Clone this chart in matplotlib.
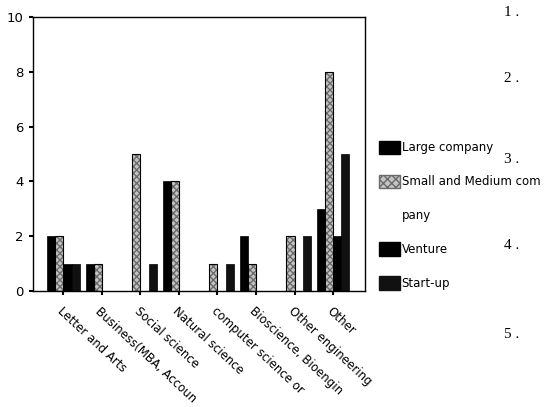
import numpy as np
import matplotlib.pyplot as plt
from matplotlib.patches import Patch

# categories (labels are cut off like in the original chart)
categories = ['Letter and Arts', 'Business(MBA, Accoun', 'Social science',
              'Natural science', 'computer science or', 'Bioscience, Bioengin',
              'Other engineering', 'Other']

large = [2, 1, 0, 4, 0, 2, 0, 3]
small_medium = [2, 1, 5, 4, 1, 1, 2, 8]
venture = [1, 0, 0, 0, 0, 0, 0, 2]
startup = [1, 0, 1, 0, 1, 0, 2, 5]

series_names = ['Large company', 'Small and Medium com', 'Venture', 'Start-up']

# section numbers from the page beside the chart
page_numbers = ['1 .', '2 .', '3 .', '4 .', '5 .', '6 .']


def main():
    fig = plt.figure(figsize=(5.6, 4.07), dpi=100)
    ax = fig.add_axes([33 / 560, 1 - 291 / 407, 332 / 560, 274 / 407])

    x = np.arange(len(categories))
    w = 0.21

    ax.bar(x - 1.5 * w, large, w, color='black', edgecolor='black', linewidth=0.5)
    ax.bar(x - 0.5 * w, small_medium, w, color='#c4c4c4', edgecolor='#6a6a6a',
           hatch='xxxxx', linewidth=0)
    ax.bar(x - 0.5 * w, small_medium, w, fill=False, edgecolor='black', linewidth=0.8)
    ax.bar(x + 0.5 * w, venture, w, color='black', edgecolor='black', linewidth=0.5)
    ax.bar(x + 1.5 * w, startup, w, color='#111111', edgecolor='black', linewidth=0.5)

    ax.set_xlim(-0.79, 7.83)
    ax.set_ylim(0, 10)
    ax.set_yticks([0, 2, 4, 6, 8, 10])
    ax.set_xticks(x)
    ax.set_xticklabels(categories, rotation=-43, ha='left', va='top',
                       rotation_mode='anchor', fontsize=8.5)
    ax.tick_params(axis='x', length=3, width=1.5, pad=7)
    ax.tick_params(axis='y', length=3, width=1.5, labelsize=9.5, pad=4)
    for s in ax.spines.values():
        s.set_linewidth(1.0)

    handles = [
        Patch(facecolor='black', edgecolor='black'),
        Patch(facecolor='#c4c4c4', edgecolor='#6a6a6a', hatch='xxxx'),
        Patch(facecolor='none', edgecolor='none'),
        Patch(facecolor='black', edgecolor='black'),
        Patch(facecolor='#111111', edgecolor='#111111'),
    ]
    labels = [series_names[0], series_names[1], 'pany', series_names[2], series_names[3]]
    fig.legend(handles, labels, loc='upper left', bbox_to_anchor=(374 / 560, 1 - 136 / 407),
               frameon=False, fontsize=8.5, handlelength=1.8, handleheight=1.4,
               handletextpad=0.15, labelspacing=1.7, borderaxespad=0)

    ys = [13, 78, 160, 245, 335, 414]
    for lab, yy in zip(page_numbers, ys):
        fig.text(504 / 560, 1 - yy / 407, lab, fontsize=11, family='Liberation Serif',
                 va='center', ha='left')

    fig.savefig('out.png', dpi=100)


if __name__ == '__main__':
    main()
